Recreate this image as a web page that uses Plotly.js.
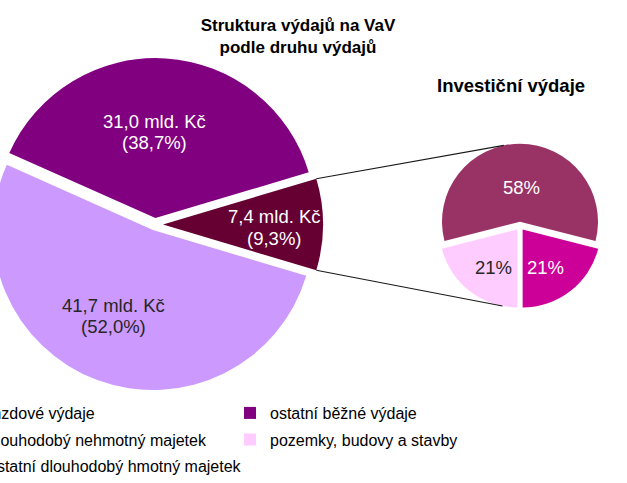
<!DOCTYPE html>
<html><head><meta charset="utf-8">
<script src="https://cdn.plot.ly/plotly-3.0.1.min.js"></script>
<style>
html,body{margin:0;padding:0;overflow:hidden;background:#fff;width:627px;height:483px;position:relative}
#chart{position:absolute;left:-60px;top:0;width:687px;height:483px}
</style>
</head><body><div id="chart"></div>
<script>
// ---------- data ----------
const mainCategories = ["Investiční výdaje", "mzdové výdaje", "ostatní běžné výdaje"];
const mainValues = [7.4, 41.7, 31.0];          // mld. Kč
const mainPercents = [9.3, 52.0, 38.7];        // %
const subCategories = ["pozemky, budovy a stavby", "ostatní dlouhodobý hmotný majetek", "dlouhodobý nehmotný majetek"];
const subPercents = [21, 58, 21];              // % of investiční výdaje
const legendCol1 = ["mzdové výdaje", "dlouhodobý nehmotný majetek", "ostatní dlouhodobý hmotný majetek"];
const legendCol2 = ["ostatní běžné výdaje", "pozemky, budovy a stavby"];
const chartTitle = "Struktura výdajů na VaV<br>podle druhu výdajů";
const subTitle = "Investiční výdaje";
const unit = "mld. Kč";

// ---------- style ----------
const colors = {
  "Investiční výdaje": "#660033",
  "mzdové výdaje": "#CC99FF",
  "ostatní běžné výdaje": "#800080",
  "pozemky, budovy a stavby": "#FFCCFF",
  "ostatní dlouhodobý hmotný majetek": "#993366",
  "dlouhodobý nehmotný majetek": "#CC0099"
};
const textColors = {
  "Investiční výdaje": "#ffffff",
  "mzdové výdaje": "#262626",
  "ostatní běžné výdaje": "#ffffff",
  "pozemky, budovy a stavby": "#262626",
  "ostatní dlouhodobý hmotný majetek": "#ffffff",
  "dlouhodobý nehmotný majetek": "#ffffff"
};
const FONT = '"Liberation Sans", Arial, sans-serif';
const OFF = 60, FW = 627 + OFF, FH = 483;
const MAIN = {cx: 155, cy: 224.5, r: 160, pull: [0.05, 0.037, 0.04],
              labelR: [0.694, 0.592, 0.538], labelDA: [1.5, 4.5, -4.6]};
const SUB  = {cx: 520, cy: 226, r: 78, pull: [0.055, 0.055, 0.055],
              labelR: [0.568, 0.445, 0.572], labelDA: [-5.9, 1.7, 7.7], rotation: 180};
const LABEL_SIZE = 18.5, LINE_GAP = 21.5;
const LEG_ROW0 = 413, LEG_ROW_STEP = 26.7, LEG_TOP_OFFSET = 17;
const LEG_COL_X = [8, 290];   // figure px of legend boxes' left edges

const toPX = x => (x + OFF) / FW;
const toPY = y => 1 - y / FH;
const fmt = v => v.toFixed(1).replace('.', ',');

function pieGeom(values, rotation, P) {
  const total = values.reduce((a, b) => a + b, 0);
  let acc = 0;
  return values.map((v, i) => {
    const a0 = rotation + acc / total * 360; acc += v;
    const a1 = rotation + acc / total * 360;
    const mid = (a0 + a1) / 2, rad = mid * Math.PI / 180;
    return {a0, a1, mid,
      vx: P.cx + P.pull[i] * P.r * Math.sin(rad),
      vy: P.cy - P.pull[i] * P.r * Math.cos(rad)};
  });
}
function polar(vx, vy, r, ang) {
  const a = ang * Math.PI / 180;
  return [vx + r * Math.sin(a), vy - r * Math.cos(a)];
}
function domainFor(P) {
  const half = P.r * (1 + Math.max(...P.pull));
  return {x: [toPX(P.cx - half), toPX(P.cx + half)], y: [toPY(P.cy + half), toPY(P.cy - half)]};
}

const mainTotal = mainValues.reduce((a, b) => a + b, 0);
const mainRotation = 90 - (mainValues[0] / mainTotal * 360) / 2;
const gMain = pieGeom(mainValues, mainRotation, MAIN);
const gSub = pieGeom(subPercents, SUB.rotation, SUB);

const traces = [
  {type: 'pie', values: mainValues, labels: mainCategories, sort: false, direction: 'clockwise',
   rotation: mainRotation, pull: MAIN.pull, domain: domainFor(MAIN),
   marker: {colors: mainCategories.map(c => colors[c]), line: {width: 0}},
   textinfo: 'none', hoverinfo: 'label+value+percent', showlegend: false},
  {type: 'pie', values: subPercents, labels: subCategories, sort: false, direction: 'clockwise',
   rotation: SUB.rotation, pull: SUB.pull, domain: domainFor(SUB),
   marker: {colors: subCategories.map(c => colors[c]), line: {width: 0}},
   textinfo: 'none', hoverinfo: 'label+percent', showlegend: false}
];

// legend: one small legend box per entry so that the two-column grid matches
const legendBase = {font: {family: FONT, size: 16, color: '#000'}, bgcolor: 'rgba(0,0,0,0)', borderwidth: 0,
  orientation: 'v', xanchor: 'left', yanchor: 'top', itemclick: false, itemdoubleclick: false, tracegroupgap: 0};
const legendLayouts = {};
let legIdx = 0;
[legendCol1, legendCol2].forEach((col, ci) => col.forEach((name, ri) => {
  legIdx += 1;
  const id = legIdx === 1 ? 'legend' : 'legend' + legIdx;
  legendLayouts[id] = Object.assign({}, legendBase,
    {x: LEG_COL_X[ci] / FW, y: toPY(LEG_ROW0 + ri * LEG_ROW_STEP - LEG_TOP_OFFSET)});
  traces.push({type: 'scatter', x: [null], y: [null], mode: 'markers', name: name,
    marker: {symbol: 'square', size: 12, color: colors[name]}, legend: id, hoverinfo: 'skip'});
}));

const annotations = [];
function addLabel(lines, x, y, color) {
  lines.forEach((t, k) => {
    const yy = y + (k - (lines.length - 1) / 2) * LINE_GAP;
    annotations.push({xref: 'paper', yref: 'paper', x: toPX(x), y: toPY(yy), xanchor: 'center', yanchor: 'middle',
      showarrow: false, text: t, font: {family: FONT, size: LABEL_SIZE, color: color}});
  });
}
mainCategories.forEach((c, i) => {
  const g = gMain[i];
  const [x, y] = polar(g.vx, g.vy, MAIN.r * MAIN.labelR[i], g.mid + MAIN.labelDA[i]);
  addLabel([fmt(mainValues[i]) + ' ' + unit, '(' + fmt(mainPercents[i]) + '%)'], x, y, textColors[c]);
});
subCategories.forEach((c, i) => {
  const g = gSub[i];
  const [x, y] = polar(g.vx, g.vy, SUB.r * SUB.labelR[i], g.mid + SUB.labelDA[i]);
  addLabel([subPercents[i] + '%'], x, y, textColors[c]);
});
annotations.push({xref: 'paper', yref: 'paper', x: toPX(511), y: toPY(85), xanchor: 'center', yanchor: 'middle',
  showarrow: false, text: subTitle, font: {family: FONT, size: 18.5, color: '#000', weight: 'bold'}});

// connector lines from the exploded slice to the secondary pie
const d = gMain[0];
const c1a = polar(d.vx, d.vy, MAIN.r, d.a0), c2a = polar(d.vx, d.vy, MAIN.r, d.a1);
const c1b = polar(gSub[1].vx, gSub[1].vy, SUB.r, 348);
const c2b = polar(gSub[0].vx, gSub[0].vy, SUB.r, 191);
const shapes = [[c1a, c1b], [c2a, c2b]].map(([p, q]) => ({type: 'line', xref: 'paper', yref: 'paper',
  x0: toPX(p[0]), y0: toPY(p[1]), x1: toPX(q[0]), y1: toPY(q[1]), line: {color: '#1a1a1a', width: 1.1}}));

const layout = Object.assign({
  width: FW, height: FH, margin: {l: 0, r: 0, t: 0, b: 0}, paper_bgcolor: '#fff', plot_bgcolor: '#fff',
  font: {family: FONT},
  title: {text: chartTitle, font: {family: FONT, size: 17, color: '#000', weight: 'bold'},
          x: toPX(298), xanchor: 'center', xref: 'paper', y: 1 - 30.5 / FH, yanchor: 'top', yref: 'container'},
  xaxis: {visible: false}, yaxis: {visible: false},
  showlegend: true,
  annotations, shapes
}, legendLayouts);
Plotly.newPlot('chart', traces, layout, {displayModeBar: false, staticPlot: true});
</script>
</body></html>
